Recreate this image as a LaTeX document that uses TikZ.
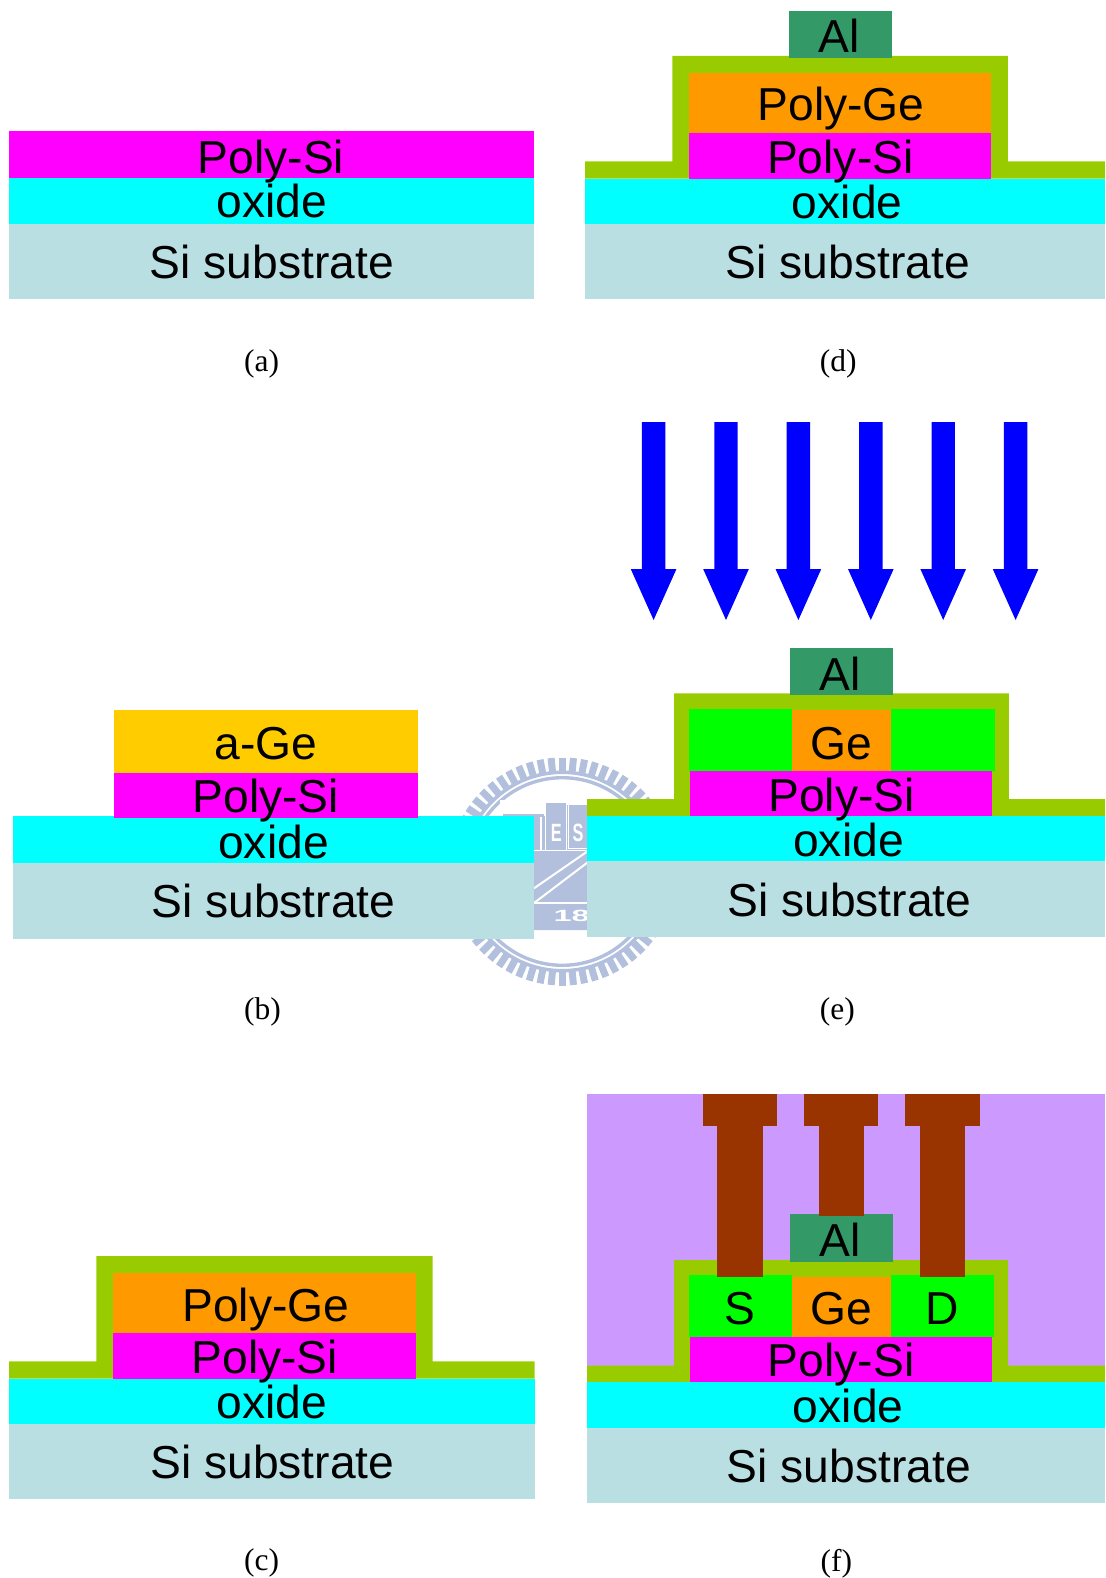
\documentclass[tikz,border=0pt]{standalone}
\usepackage{fontspec}
\setmainfont{Liberation Serif}
\newfontfamily\arialfont{Liberation Sans}
\usetikzlibrary{positioning}
\definecolor{polysicolor}{HTML}{FF00FF}
\definecolor{oxidecolor}{HTML}{00FFFF}
\definecolor{subcolor}{HTML}{BADFE3}
\definecolor{gatecolor}{HTML}{99CC00}
\definecolor{polygecolor}{HTML}{FF9900}
\definecolor{agecolor}{HTML}{FFCC00}
\definecolor{alcolor}{HTML}{339966}
\definecolor{sdcolor}{HTML}{00FF00}
\definecolor{metalcolor}{HTML}{993300}
\definecolor{imdcolor}{HTML}{CC99FF}
\definecolor{implantcolor}{HTML}{0000FF}
\definecolor{wmarkcolor}{HTML}{B2C0DE}
\tikzset{
    polysi/.style = {fill=polysicolor},
    oxide/.style = {fill=oxidecolor},
    substrate/.style = {fill=subcolor},
    gate/.style = {fill=gatecolor},
    polyge/.style = {fill=polygecolor},
    age/.style = {fill=agecolor},
    alum/.style = {fill=alcolor},
    sd/.style = {fill=sdcolor},
    metal/.style = {fill=metalcolor},
    imd/.style = {fill=imdcolor},
    implant/.style = {fill=implantcolor},
    wmark/.style = {fill=wmarkcolor},
    tick/.style = {draw=wmarkcolor, line width=7pt},
    layer/.style = {
        anchor=base,
        inner sep=0pt,
        font=\arialfont\fontsize{46.2}{50}\selectfont
    },
    caption/.style = {
        anchor=base,
        inner sep=0pt,
        font=\fontsize{31.5}{34}\selectfont
    },
    wmarktext/.style = {
        anchor=base,
        inner sep=0pt,
        text=white,
        font=\arialfont\bfseries\fontsize{25}{28}\selectfont
    },
}

\begin{document}
\begin{tikzpicture}[x=1pt, y=-1pt]
        \useasboundingbox (0,0) rectangle (1105,1578);

        \begin{scope}[shift={(562.3,871.5)}]
            \foreach \ang in {0,5.625,...,354.5} {
                \path[tick] (\ang:99) -- (\ang:114);
            }
            \path[draw=wmarkcolor, line width=3.5pt] (0,0) circle (99.2);
            \path[draw=wmarkcolor, line width=3.4pt] (0,0) circle (93.8);
        \end{scope}
        \path[fill=white] (500,800) rectangle (600,935);
        \path[wmark] (503,814) rectangle (544,817);
        \path[wmark] (534,816) rectangle (540,850);
        \path[wmark] (541.7,816) rectangle (545,850);
        \path[wmark] (545.7,803.3) rectangle (566,850);
        \path[wmark] (567,805) rectangle (600,850);
        \path[draw=white, line width=1pt] (568.6,805) -- (568.6,848) -- (600,848);
        \path[wmark, rounded corners=3pt] (510,851) rectangle (600,930);
        \path[draw=white, line width=2pt] (534,888.3) -- (600,842.7);
        \path[draw=white, line width=2pt] (534,903) -- (600,853);
        \path[draw=white, line width=2pt] (534,903) -- (600,903);
        \node[wmarktext, xscale=0.65, transform shape] (wmarkE) at (556.3,841.7) {E};
        \node[wmarktext, xscale=0.65, transform shape] (wmarkS) at (578,841.7) {S};
        \node[wmarktext, xscale=1.3, yscale=0.65, transform shape] (wmarkyear) at (571.7,921.7) {18};

        \path[polysi] (9,131) rectangle (534,178);
        \path[oxide] (9,178) rectangle (534,223.7);
        \path[substrate] (9,223.7) rectangle (534,299.3);
        \node[layer] (polysiA) at (271,173.3) {Poly-Si};
        \node[layer] (oxideA) at (271.8,217.3) {oxide};
        \node[layer] (subA) at (271.8,278.3) {Si substrate};
        \node[caption] (capA) at (261.7,371.4) {(a)};

        \path[oxide] (12.9,816) rectangle (534,863);
        \path[substrate] (12.9,863) rectangle (534,938.7);
        \path[age] (113.6,710) rectangle (418.1,772.7);
        \path[polysi] (113.6,772.7) rectangle (418.1,817.7);
        \node[layer] (ageB) at (265.9,759.3) {a-Ge};
        \node[layer] (polysiB) at (265.9,812.7) {Poly-Si};
        \node[layer] (oxideB) at (273.5,858.2) {oxide};
        \node[layer] (subB) at (273.5,917.3) {Si substrate};
        \node[caption] (capB) at (262.4,1019.5) {(b)};

        \path[gate] (9,1378.7) -- (9,1361.3) -- (96.3,1361.3) -- (96.3,1256) -- (432.7,1256)
            -- (432.7,1361.3) -- (534.6,1361.3) -- (534.6,1378.7) -- cycle;
        \path[polyge] (113,1273.3) rectangle (416,1333.3);
        \path[polysi] (113,1333.3) rectangle (416,1378.7);
        \path[oxide] (9,1378.7) rectangle (534.6,1423.7);
        \path[substrate] (9,1423.7) rectangle (534.6,1499);
        \node[layer] (polygeC) at (265.9,1321) {Poly-Ge};
        \node[layer] (polysiC) at (264.9,1373.3) {Poly-Si};
        \node[layer] (oxideC) at (271.8,1418.3) {oxide};
        \node[layer] (subC) at (272.5,1478.3) {Si substrate};
        \node[caption] (capC) at (261.7,1570.7) {(c)};

        \path[gate] (585,178.7) -- (585,161.3) -- (672.4,161.3) -- (672.4,56) -- (1007.8,56)
            -- (1007.8,161.3) -- (1105,161.3) -- (1105,178.7) -- cycle;
        \path[alum] (788.5,10.7) rectangle (892,57.7);
        \path[polyge] (688.8,73.3) rectangle (991.1,133.3);
        \path[polysi] (688.8,133.3) rectangle (991.1,178.7);
        \path[oxide] (585,178.7) rectangle (1105,223.7);
        \path[substrate] (585,223.7) rectangle (1105,299);
        \node[layer] (alD) at (839.5,52.3) {Al};
        \node[layer] (polygeD) at (841,120.7) {Poly-Ge};
        \node[layer] (polysiD) at (840.3,173.3) {Poly-Si};
        \node[layer] (oxideD) at (847.2,218.3) {oxide};
        \node[layer] (subD) at (847.8,278.3) {Si substrate};
        \node[caption] (capD) at (838.3,371.4) {(d)};

        \foreach \xpos in {653.6,726,798.4,870.8,943.2,1015.6} {
            \path[implant] (\xpos-11.7,422) -- (\xpos+11.7,422) -- (\xpos+11.7,569.1) -- (\xpos+22.8,569.1)
                -- (\xpos,620) -- (\xpos-22.8,569.1) -- (\xpos-11.7,569.1) -- cycle;
        }
        \path[gate] (587,816.3) -- (587,799.1) -- (674,799.1) -- (674,693.4) -- (1008.9,693.4)
            -- (1008.9,799.1) -- (1105,799.1) -- (1105,816.3) -- cycle;
        \path[alum] (789.9,647.9) rectangle (893,695.1);
        \path[sd] (689.1,708.6) rectangle (792.2,770.9);
        \path[polyge] (792.2,710.3) rectangle (891.3,770.9);
        \path[sd] (891.3,708.6) rectangle (995.1,770.9);
        \path[polysi] (690.2,770.9) rectangle (992.4,816.3);
        \path[oxide] (587,816.3) rectangle (1105,861.4);
        \path[substrate] (587,861.4) rectangle (1105,936.9);
        \node[layer] (alE) at (840.5,690.6) {Al};
        \node[layer] (geE) at (841.8,759.3) {Ge};
        \node[layer] (polysiE) at (841.5,811.2) {Poly-Si};
        \node[layer] (oxideE) at (848.5,856.6) {oxide};
        \node[layer] (subE) at (849.5,916.2) {Si substrate};
        \node[caption] (capE) at (837.3,1019.5) {(e)};

        \path[imd] (587,1094) rectangle (1105,1366);
        \path[gate] (587,1382.3) -- (587,1365.7) -- (674,1365.7) -- (674,1260) -- (1008.2,1260)
            -- (1008.2,1365.7) -- (1105,1365.7) -- (1105,1382.3) -- cycle;
        \path[alum] (789.6,1214.3) rectangle (893,1261.7);
        \path[sd] (688.5,1275) rectangle (791.9,1337);
        \path[polyge] (791.9,1276.7) rectangle (891.3,1337);
        \path[sd] (891.3,1275) rectangle (993.8,1337);
        \path[polysi] (690.2,1337) rectangle (992.1,1382.3);
        \path[oxide] (587,1382.3) rectangle (1105,1427.7);
        \path[substrate] (587,1427.7) rectangle (1105,1503.3);
        \path[metal] (702.9,1094) rectangle (777.2,1125.7);
        \path[metal] (717.3,1125.7) rectangle (762.8,1276.7);
        \path[metal] (804,1094) rectangle (878.3,1125.7);
        \path[metal] (818.7,1125.7) rectangle (863.9,1216.3);
        \path[metal] (905.4,1094) rectangle (979.7,1125.7);
        \path[metal] (919.8,1125.7) rectangle (965,1276.7);
        \node[layer] (alF) at (840.5,1256) {Al};
        \node[layer] (sourceF) at (740,1324.3) {S};
        \node[layer] (geF) at (841.8,1324.3) {Ge};
        \node[layer] (drainF) at (942.6,1324.3) {D};
        \node[layer] (polysiF) at (841.1,1376.7) {Poly-Si};
        \node[layer] (oxideF) at (848.2,1422.2) {oxide};
        \node[layer] (subF) at (848.8,1482.3) {Si substrate};
        \node[caption] (capF) at (836.3,1571) {(f)};
    \end{tikzpicture}
\end{document}
